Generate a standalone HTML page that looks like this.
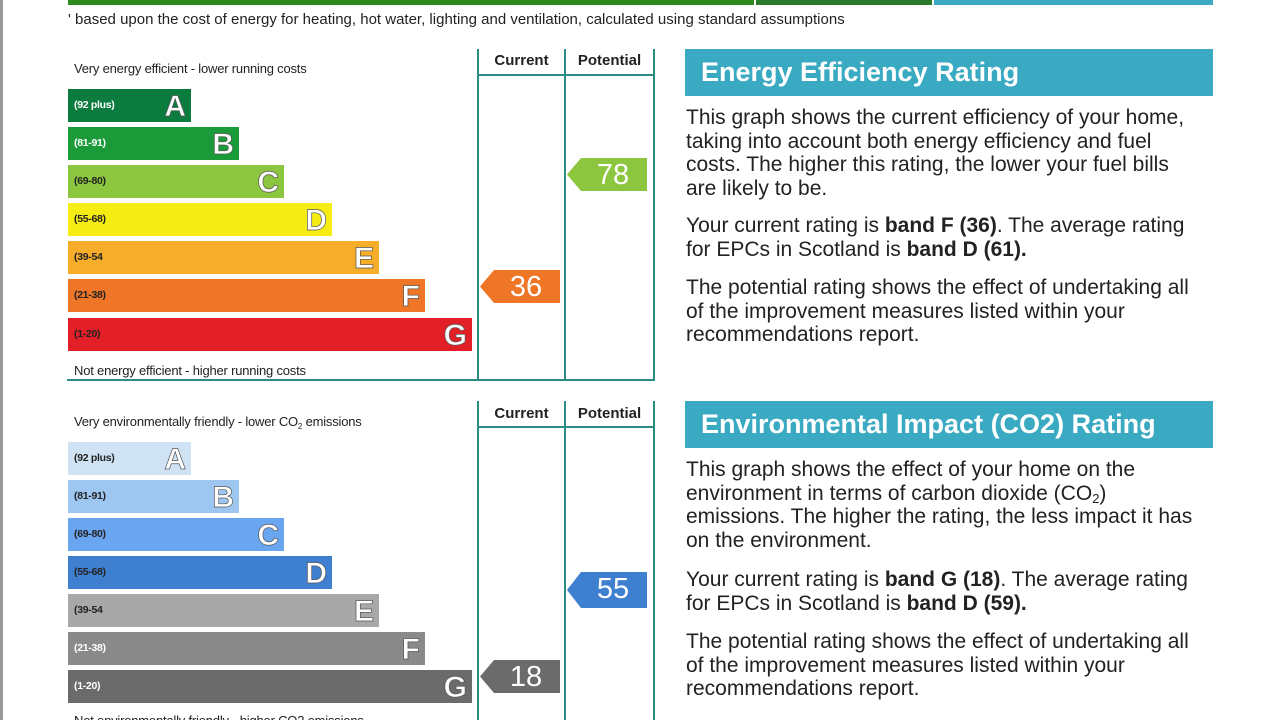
<!DOCTYPE html>
<html><head><meta charset="utf-8"><style>
*{margin:0;padding:0;box-sizing:border-box}
html,body{width:1280px;height:720px;overflow:hidden}
body{background:#fff;position:relative;font-family:"Liberation Sans",Arial,sans-serif;color:#222}
.a{position:absolute}
.bar{position:absolute;left:68px;height:33px}
.bar .r{position:absolute;left:6px;top:10px;font-size:10.5px;font-weight:bold;color:#222;letter-spacing:-0.3px}
.bar .l{position:absolute;right:5px;top:0;font-size:30px;font-weight:bold;line-height:35px;color:#fff;-webkit-text-stroke:0.7px #555}
.ln{position:absolute;background:#2b8c84}
.arr{position:absolute;height:33px;width:80px;color:#fff;font-size:29px;line-height:34px;text-align:center;padding-left:12px}
.arr svg{position:absolute;left:0;top:0}
.arr span{position:relative}
.hdr{position:absolute;left:685px;width:528px;height:47px;background:#3aaac2;color:#fff;font-weight:bold;font-size:27px;line-height:47px;padding-left:16px}
.p{position:absolute;left:686px;width:508px;font-size:21px;line-height:23.5px;color:#222}
sub{font-size:13px;line-height:0;vertical-align:-3px}
.sm{position:absolute;font-size:13px;color:#222;letter-spacing:-0.2px}
.ch{position:absolute;font-size:15px;font-weight:bold;color:#222;text-align:center}
</style></head><body>
<div class="a" style="left:0;top:0;width:3px;height:720px;background:#999"></div>
<div class="a" style="left:68px;top:0;width:686px;height:5px;background:#2f8a1e"></div>
<div class="a" style="left:756px;top:0;width:176px;height:5px;background:#2a7a2a"></div>
<div class="a" style="left:934px;top:0;width:279px;height:5px;background:#3aaac2"></div>
<div class="a" style="left:68px;top:11px;font-size:15px">' based upon the cost of energy for heating, hot water, lighting and ventilation, calculated using standard assumptions</div>

<div class="sm" style="left:74px;top:61px">Very energy efficient - lower running costs</div>
<div class="ln" style="left:477px;top:49px;width:2px;height:332px"></div>
<div class="ln" style="left:564px;top:49px;width:2px;height:332px"></div>
<div class="ln" style="left:653px;top:49px;width:2px;height:332px"></div>
<div class="ln" style="left:477px;top:74px;width:178px;height:2px"></div>
<div class="ln" style="left:67px;top:379px;width:588px;height:2px"></div>
<div class="ch" style="left:479px;top:52px;width:85px">Current</div>
<div class="ch" style="left:566px;top:52px;width:87px">Potential</div>
<div class="bar" style="top:89px;width:123px;background:#0c7c3e"><span class="r" style="color:#fff">(92 plus)</span><span class="l">A</span></div>
<div class="bar" style="top:127px;width:171px;background:#1b9a3a"><span class="r" style="color:#fff">(81-91)</span><span class="l">B</span></div>
<div class="bar" style="top:165px;width:216px;background:#8cc63f"><span class="r">(69-80)</span><span class="l">C</span></div>
<div class="bar" style="top:203px;width:264px;background:#f4ec12"><span class="r">(55-68)</span><span class="l">D</span></div>
<div class="bar" style="top:241px;width:311px;background:#f6ae2a"><span class="r">(39-54</span><span class="l">E</span></div>
<div class="bar" style="top:279px;width:357px;background:#ee7626"><span class="r">(21-38)</span><span class="l">F</span></div>
<div class="bar" style="top:318px;width:404px;background:#e21f26"><span class="r">(1-20)</span><span class="l">G</span></div>
<div class="sm" style="left:74px;top:363px">Not energy efficient - higher running costs</div>
<div class="arr" style="left:567px;top:158px"><svg width="80" height="33"><polygon points="0,16.5 14,0 80,0 80,33 14,33" fill="#8cc63f"/></svg><span>78</span></div>
<div class="arr" style="left:480px;top:270px"><svg width="80" height="33"><polygon points="0,16.5 14,0 80,0 80,33 14,33" fill="#ee7626"/></svg><span>36</span></div>

<div class="hdr" style="top:49px">Energy Efficiency Rating</div>
<div class="p" style="top:106px">This graph shows the current efficiency of your home, taking into account both energy efficiency and fuel costs. The higher this rating, the lower your fuel bills are likely to be.</div>
<div class="p" style="top:214px">Your current rating is <b>band F (36)</b>. The average rating for EPCs in Scotland is <b>band D (61).</b></div>
<div class="p" style="top:276px">The potential rating shows the effect of undertaking all of the improvement measures listed within your recommendations report.</div>

<div class="sm" style="left:74px;top:414px">Very environmentally friendly - lower CO<sub style="font-size:8px">2</sub> emissions</div>
<div class="ln" style="left:477px;top:401px;width:2px;height:319px"></div>
<div class="ln" style="left:564px;top:401px;width:2px;height:319px"></div>
<div class="ln" style="left:653px;top:401px;width:2px;height:319px"></div>
<div class="ln" style="left:477px;top:426px;width:178px;height:2px"></div>
<div class="ch" style="left:479px;top:405px;width:85px">Current</div>
<div class="ch" style="left:566px;top:405px;width:87px">Potential</div>
<div class="bar" style="top:442px;width:123px;background:#cfe3f5"><span class="r">(92 plus)</span><span class="l">A</span></div>
<div class="bar" style="top:480px;width:171px;background:#9dc6f0"><span class="r">(81-91)</span><span class="l">B</span></div>
<div class="bar" style="top:518px;width:216px;background:#6aa5f0"><span class="r">(69-80)</span><span class="l">C</span></div>
<div class="bar" style="top:556px;width:264px;background:#3f7fcf"><span class="r">(55-68)</span><span class="l">D</span></div>
<div class="bar" style="top:594px;width:311px;background:#a8a8a8"><span class="r">(39-54</span><span class="l">E</span></div>
<div class="bar" style="top:632px;width:357px;background:#8a8a8a"><span class="r" style="color:#fff">(21-38)</span><span class="l">F</span></div>
<div class="bar" style="top:670px;width:404px;background:#6b6b6b"><span class="r" style="color:#fff">(1-20)</span><span class="l">G</span></div>
<div class="sm" style="left:74px;top:713px">Not environmentally friendly - higher CO2 emissions</div>
<div class="arr" style="left:567px;top:572px;height:36px"><svg width="80" height="36"><polygon points="0,18 14,0 80,0 80,36 14,36" fill="#3f7fcf"/></svg><span>55</span></div>
<div class="arr" style="left:480px;top:660px"><svg width="80" height="33"><polygon points="0,16.5 14,0 80,0 80,33 14,33" fill="#6b6b6b"/></svg><span>18</span></div>

<div class="hdr" style="top:401px">Environmental Impact (CO2) Rating</div>
<div class="p" style="top:458px">This graph shows the effect of your home on the environment in terms of carbon dioxide (CO<sub>2</sub>) emissions. The higher the rating, the less impact it has on the environment.</div>
<div class="p" style="top:568px">Your current rating is <b>band G (18)</b>. The average rating for EPCs in Scotland is <b>band D (59).</b></div>
<div class="p" style="top:630px">The potential rating shows the effect of undertaking all of the improvement measures listed within your recommendations report.</div>
</body></html>
